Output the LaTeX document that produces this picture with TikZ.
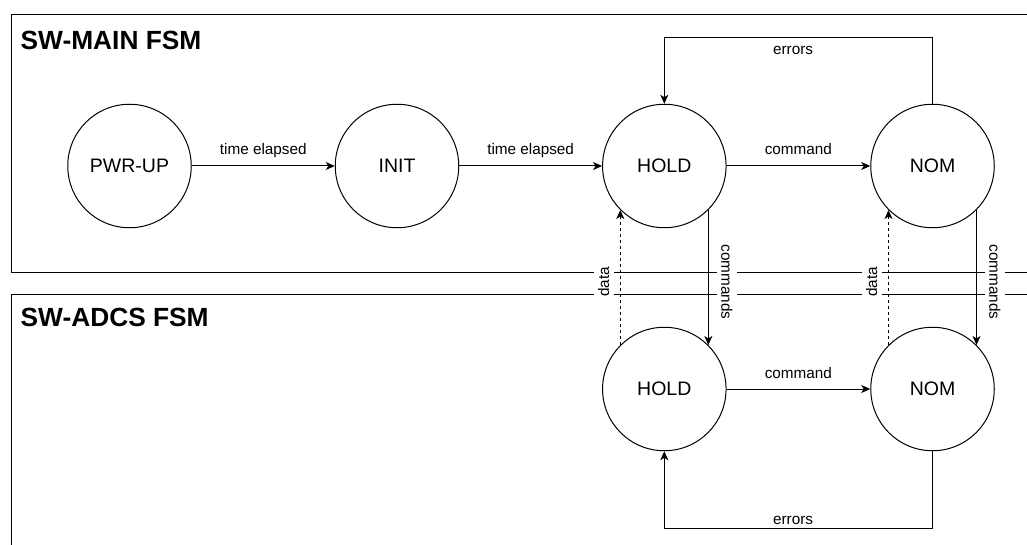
\documentclass[tikz,border=0pt]{standalone}
\usepackage{fontspec}
\setmainfont{Liberation Sans}
\usetikzlibrary{arrows.meta}

\begin{document}
\begin{tikzpicture}[x=1pt,y=-1pt,
  fsmstate/.style={circle,draw,line width=1pt,minimum size=123.5pt,inner sep=0pt,
    font=\fontsize{19.5}{22}\selectfont},
  flow/.style={draw,line width=1pt,-{Stealth[length=9pt,width=8pt,inset=2.5pt]}},
  dataflow/.style={flow,dash pattern=on 3pt off 3pt},
  hlbl/.style={font=\fontsize{15.3}{17}\selectfont,inner sep=0pt,anchor=base},
  vlbl/.style={font=\fontsize{15.3}{17}\selectfont,fill=white,inner xsep=1pt,inner ysep=4.4pt},
  fsmframe/.style={draw,line width=1pt},
  fsmtitle/.style={font=\fontsize{26.3}{30}\selectfont\bfseries,anchor=base west,inner sep=0pt}]

\useasboundingbox (0,0) rectangle (1027,545);
\clip (0,0) rectangle (1027,545);

% the two state machine frames
\draw[fsmframe] (11.5,15) rectangle (1040,272);
\draw[fsmframe] (11.5,294.3) rectangle (1040,570);
\node[fsmtitle] (maintitle) at (20.5,49.3) {SW-MAIN FSM};
\node[fsmtitle] (adcstitle) at (20.5,326.7) {SW-ADCS FSM};

% main FSM states
\node[fsmstate] (pwr)  at (129.5,166) {PWR-UP};
\node[fsmstate] (init) at (397,166)   {INIT};
\node[fsmstate] (hold) at (664.3,166) {HOLD};
\node[fsmstate] (nom)  at (932.5,166) {NOM};

% ADCS FSM states
\node[fsmstate] (ahold) at (664.3,389) {HOLD};
\node[fsmstate] (anom)  at (932.5,389) {NOM};

% main FSM transitions
\draw[flow] (pwr)  -- node[hlbl,yshift=11pt] {time elapsed} (init);
\draw[flow] (init) -- node[hlbl,yshift=11pt] {time elapsed} (hold);
\draw[flow] (hold) -- node[hlbl,yshift=11pt] {command} (nom);
\draw[flow] (nom.north) -- ++(0,-66.3) -| node[hlbl,pos=0.26,yshift=-17.3pt] {errors} (hold.north);

% ADCS FSM transitions
\draw[flow] (ahold) -- node[hlbl,yshift=11pt] {command} (anom);
\draw[flow] (anom.south) -- ++(0,77.5) -| node[hlbl,pos=0.26,yshift=4.3pt] {errors} (ahold.south);

% links between the two machines
\draw[flow] (hold.-45) -- node[vlbl,pos=0.533,xshift=18.5pt,rotate=-90] {commands} (ahold.45);
\draw[dataflow] (ahold.135) -- node[vlbl,pos=0.467,xshift=-16.7pt,rotate=90] {data} (hold.-135);
\draw[flow] (nom.-45) -- node[vlbl,pos=0.533,xshift=18.3pt,rotate=-90] {commands} (anom.45);
\draw[dataflow] (anom.135) -- node[vlbl,pos=0.467,xshift=-16.8pt,rotate=90] {data} (nom.-135);
\end{tikzpicture}
\end{document}
